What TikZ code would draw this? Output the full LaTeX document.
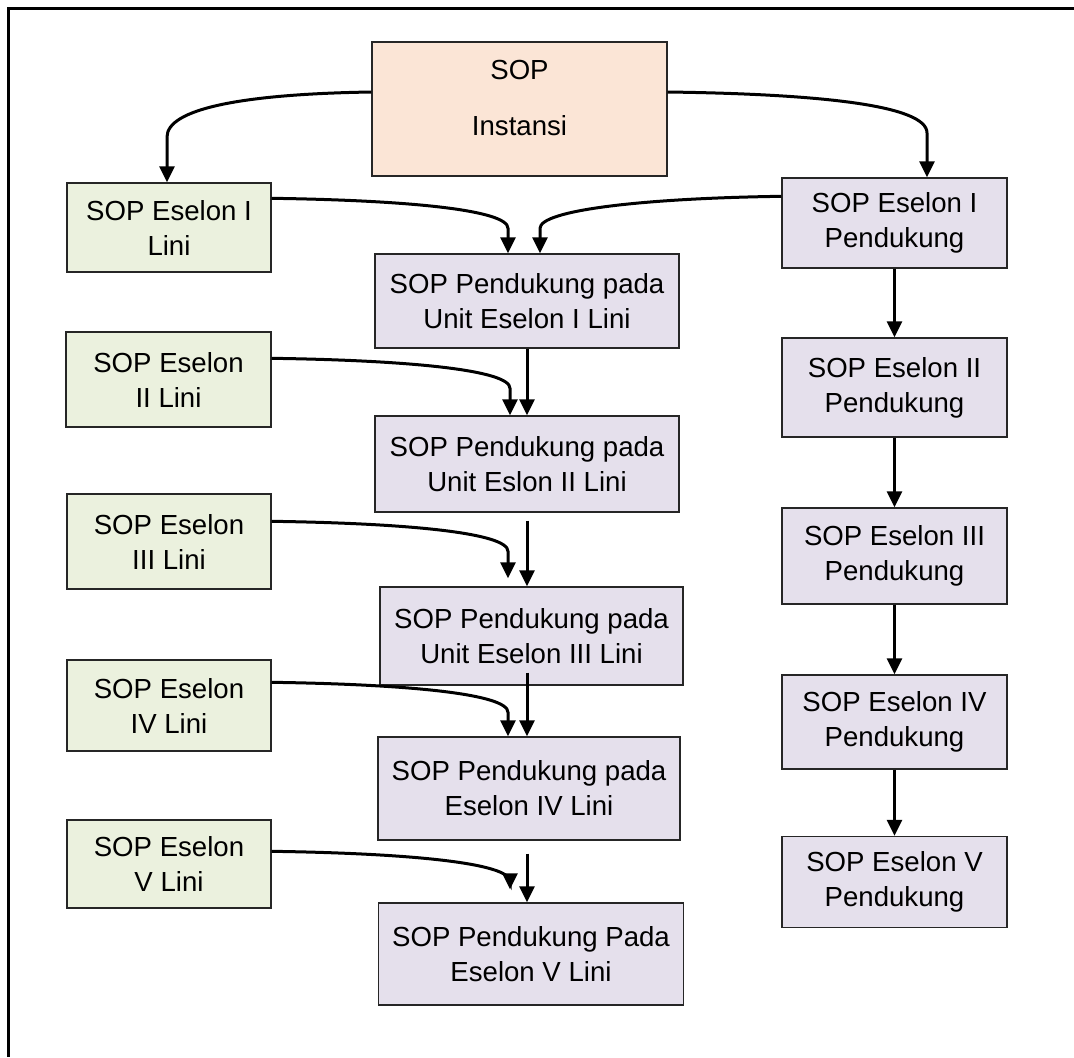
\documentclass[tikz,border=0pt]{standalone}
\usepackage{fontspec}
\setmainfont{Liberation Sans}
\usetikzlibrary{arrows.meta,calc}
\definecolor{peach}{HTML}{FBE5D6}
\definecolor{sage}{HTML}{EBF1DE}
\definecolor{lilac}{HTML}{E5E0EC}
\definecolor{edgegray}{HTML}{262626}
\begin{document}
\begin{tikzpicture}[x=0.5pt,y=-0.5pt,
  font=\fontsize{13.8}{17.5}\selectfont,
  sz/.style 2 args={minimum width=#1*0.5pt, minimum height=#2*0.5pt},
  box/.style={draw=edgegray, line width=0.7pt, align=center, inner sep=0pt},
  lini/.style={box, fill=sage},
  pend/.style={box, fill=lilac},
  arr/.style={line width=1.5pt, -{Triangle[width=7.5pt,length=8pt]}},
  elbowcurve/.style n args={3}{to path={.. controls +(#1,2) and +(0,-#3) .. ($(\tikztostart -| \tikztotarget)+(0,#2)$) -- (\tikztotarget)}},
]
\useasboundingbox (0,0) rectangle (1074,1057);

% outer frame (top and left edges)
\draw[line width=1.3pt] (1074,8.5) -- (8.5,8.5) -- (8.5,1057);

% top box
\node[box, fill=peach, sz={295}{134}] (inst) at (519.5,109) {};
\node[anchor=base] (instsop) at ($(inst.north)+(0,38)$) {SOP};
\node[anchor=base] (instname) at ($(inst.north)+(0,94)$) {Instansi};

% line units (left column)
\node[lini, sz={204}{89}] (l1) at (169,227.5) {SOP Eselon I\\Lini};
\node[lini, sz={205}{95}] (l2) at (168.5,379.5) {SOP Eselon\\II Lini};
\node[lini, sz={204}{95}] (l3) at (169,541.5) {SOP Eselon\\III Lini};
\node[lini, sz={204}{91}] (l4) at (169,705.5) {SOP Eselon\\IV Lini};
\node[lini, sz={204}{88}] (l5) at (169,864) {SOP Eselon\\V Lini};

% supporting SOPs for line units (middle column)
\node[pend, sz={304}{94}] (p1) at (527,301) {SOP Pendukung pada\\Unit Eselon I Lini};
\node[pend, sz={304}{96}] (p2) at (527,464) {SOP Pendukung pada\\Unit Eslon II Lini};
\node[pend, sz={303}{98}] (p3) at (531.5,636) {SOP Pendukung pada\\Unit Eselon III Lini};
\node[pend, sz={302}{103}] (p4) at (529,788.5) {SOP Pendukung pada\\Eselon IV Lini};
\node[pend, sz={305}{102}] (p5) at (531,954) {SOP Pendukung Pada\\Eselon V Lini};

% supporting units (right column)
\node[pend, sz={225}{90}] (r1) at (894.5,223) {SOP Eselon I\\Pendukung};
\node[pend, sz={225}{99}] (r2) at (894.5,387.5) {SOP Eselon II\\Pendukung};
\node[pend, sz={225}{96}] (r3) at (894.5,556) {SOP Eselon III\\Pendukung};
\node[pend, sz={225}{94}] (r4) at (894.5,722) {SOP Eselon IV\\Pendukung};
\node[pend, sz={225}{91}] (r5) at (894.5,882) {SOP Eselon V\\Pendukung};

% connectors from the top box
\coordinate (a0) at ($(inst.west)+(0,-17)$);
\coordinate (a0t) at ($(l1.north)+(-2,0)$);
\draw[arr] (a0) to[elbowcurve={-130}{45}{28}] (a0t);
\coordinate (b0) at ($(inst.east)+(0,-17)$);
\coordinate (b0t) at ($(r1.north)+(32.5,0)$);
\draw[arr] (b0) to[elbowcurve={150}{41}{28}] (b0t);

% Eselon I Pendukung into the first middle box
\coordinate (c0) at ($(r1.north west)+(0,19)$);
\coordinate (c0t) at ($(p1.north)+(13,0)$);
\draw[arr] (c0) to[elbowcurve={-140}{32}{18}] (c0t);

% line units into the middle column
\coordinate (s1) at ($(l1.north east)+(0,16)$);
\coordinate (t1) at ($(p1.north)+(-19,0)$);
\coordinate (s2) at ($(l2.north east)+(0,27)$);
\coordinate (t2) at ($(p2.north)+(-17,0)$);
\coordinate (s3) at ($(l3.north east)+(0,28)$);
\coordinate (t3) at ($(p3.north)+(-23.5,-8)$);
\coordinate (s4) at ($(l4.north east)+(0,23)$);
\coordinate (t4) at ($(p4.north)+(-21,0)$);
\coordinate (s5) at ($(l5.north east)+(0,32)$);
\coordinate (t5) at ($(p5.north)+(-21,-13)$);
\foreach \i in {1,...,5}{
  \draw[arr] (s\i) to[elbowcurve={140}{30}{18}] (t\i);
}

% middle column chain
\draw[arr] (p1.south) -- (p1.south |- p2.north);
\draw[arr] ($(p2.south)+(0,8)$) -- (p2.south |- p3.north);
\draw[arr] ($(p3.south -| p2.south)+(0,-13)$) -- (p2.south |- p4.north);
\draw[arr] ($(p4.south -| p2.south)+(0,13)$) -- (p2.south |- p5.north);

% right column chain
\draw[arr] (r1.south) -- (r2.north);
\draw[arr] (r2.south) -- (r3.north);
\draw[arr] (r3.south) -- (r4.north);
\draw[arr] (r4.south) -- (r5.north);
\end{tikzpicture}
\end{document}
